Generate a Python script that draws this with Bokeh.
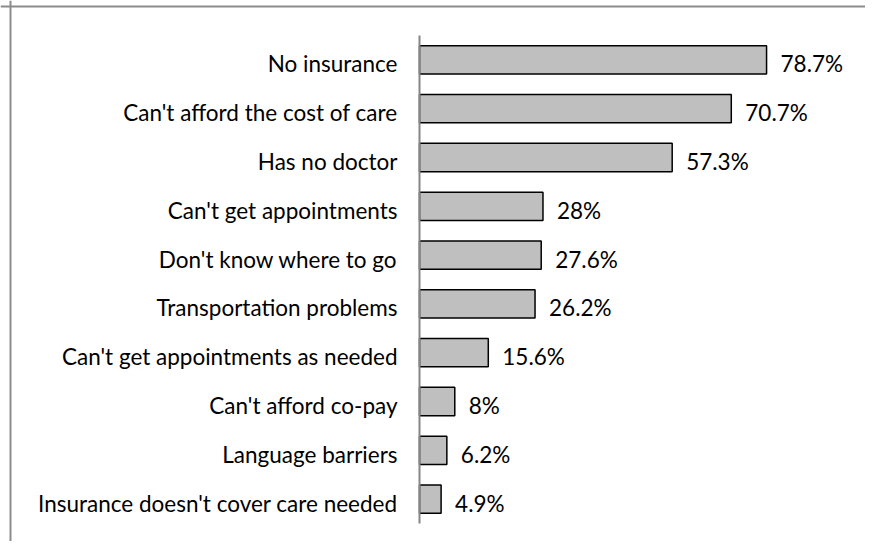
from bokeh.plotting import figure
from bokeh.models import Range1d, Span, ColumnDataSource
from bokeh.core.properties import value
from bokeh.embed import file_html
from bokeh.resources import INLINE

categories = [
    "No insurance",
    "Can't afford the cost of care",
    "Has no doctor",
    "Can't get appointments",
    "Don't know where to go",
    "Transportation problems",
    "Can't get appointments as needed",
    "Can't afford co-pay",
    "Language barriers",
    "Insurance doesn't cover care needed",
]
values = [78.7, 70.7, 57.3, 28, 27.6, 26.2, 15.6, 8, 6.2, 4.9]

n = len(categories)
ypos = [n - 1 - i for i in range(n)]
labels = [f"{v:g}%" for v in values]

# layout (pixels relative to the figure's top-left corner)
W, H = 865, 541
zero_px = 419
ppu = 4.41          # pixels per percent
row_px = 48.8
rows_top_px = 35

x_start = -zero_px / ppu
x_end = (W - zero_px) / ppu
pad_top = rows_top_px / row_px
pad_bot = (H - (rows_top_px + n * row_px)) / row_px
y_top = n - 0.5 + pad_top

src = ColumnDataSource(dict(y=ypos, v=values, cat=categories, lab=labels))

p = figure(width=W, height=H, output_backend="svg", toolbar_location=None,
           x_range=Range1d(x_start, x_end),
           y_range=Range1d(-0.5 - pad_bot, y_top),
           x_axis_location=None, y_axis_location=None, min_border=0)
p.grid.visible = False
p.outline_line_color = None
p.background_fill_color = "white"
p.border_fill_color = "white"

p.hbar(y="y", right="v", left=0, height=0.58, source=src,
       fill_color="#bfbfbf", line_color="#000000", line_width=1.5)

# vertical axis line
p.segment(x0=[0], x1=[0], y0=[-0.5], y1=[n - 0.5], line_color="#868686", line_width=2)

FONT = value("Lato")
p.text(x=0, y="y", text="cat", source=src, x_offset=-22, y_offset=4,
       text_align="right", text_baseline="middle", text_font=FONT,
       text_font_size="22.5px", text_color="#000000")
p.text(x="v", y="y", text="lab", source=src, x_offset=14, y_offset=4,
       text_align="left", text_baseline="middle", text_font=FONT,
       text_font_size="22.5px", text_color="#000000")

# chart border (left and top)
bx = x_start + 10 / ppu
by = y_top - 6 / row_px
p.add_layout(Span(location=bx, dimension="height", line_color="#8c8c8c", line_width=2))
p.add_layout(Span(location=by, dimension="width", line_color="#8c8c8c", line_width=2))

open("out.html", "w").write(file_html(p, INLINE))
